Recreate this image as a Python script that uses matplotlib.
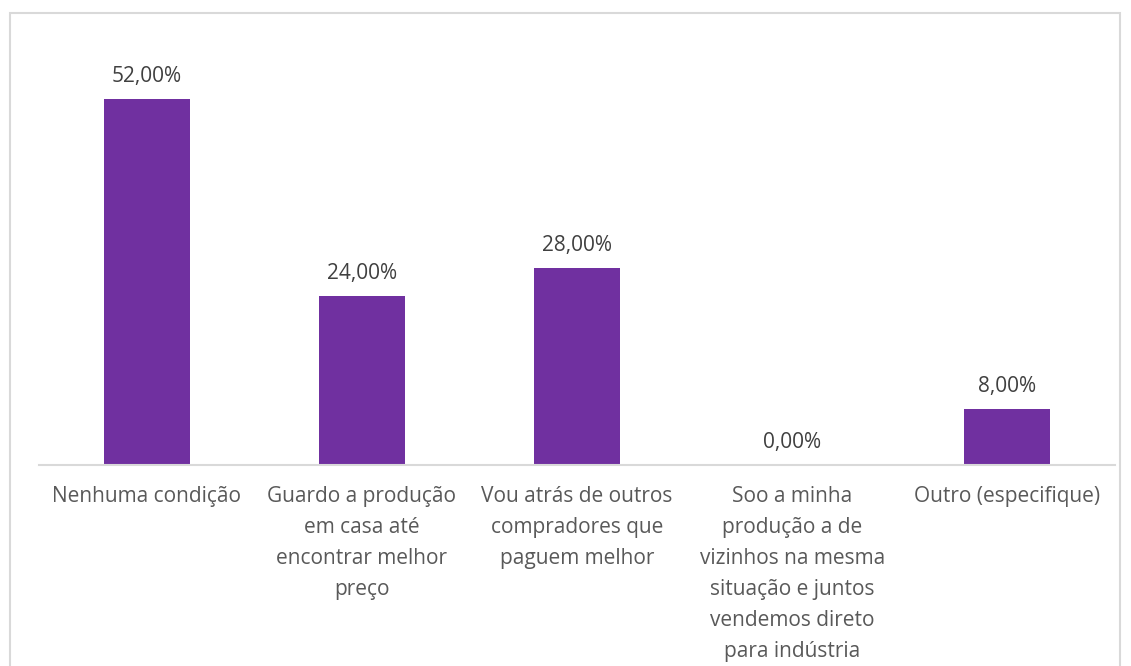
import matplotlib.pyplot as plt
from matplotlib.patches import Rectangle

plt.rcParams['font.family'] = ['Open Sans', 'DejaVu Sans']

categorias = [
    "Nenhuma condição",
    "Guardo a produção\nem casa até\nencontrar melhor\npreço",
    "Vou atrás de outros\ncompradores que\npaguem melhor",
    "Soo a minha\nprodução a de\nvizinhos na mesma\nsituação e juntos\nvendemos direto\npara indústria",
    "Outro (especifique)",
]
valores = [52.0, 24.0, 28.0, 0.0, 8.0]

W, H = 1131, 666
fig = plt.figure(figsize=(W / 100, H / 100), dpi=100)

# moldura cinza do gráfico
fig.patches.append(Rectangle((10 / W, -0.1), 1110 / W, 1.1 - 13 / H,
                             transform=fig.transFigure, fill=False,
                             edgecolor='#D9D9D9', linewidth=1.5))

ax = fig.add_axes([39 / W, 1 - 465 / H, 1076 / W, 422 / H])
x = range(len(valores))
ax.bar(x, valores, width=0.4, color='#7030A0')
ax.set_xlim(-0.5, len(valores) - 0.5)
ax.set_ylim(0, 60)

for xi, v in zip(x, valores):
    ax.annotate(f"{v:.2f}%".replace('.', ','), (xi, v), xytext=(0, 8.5),
                textcoords='offset points', ha='center', va='bottom',
                fontsize=15, color='#404040')

ax.set_xticks(list(x))
ax.set_xticklabels(categorias, fontsize=15, color='#595959', linespacing=1.63,
                   va='top')
ax.tick_params(axis='x', length=0, pad=15)
ax.set_yticks([])
for s in ['top', 'right', 'left']:
    ax.spines[s].set_visible(False)
ax.spines['bottom'].set_color('#D9D9D9')
ax.spines['bottom'].set_linewidth(1.5)

fig.savefig('out.png', dpi=100)
